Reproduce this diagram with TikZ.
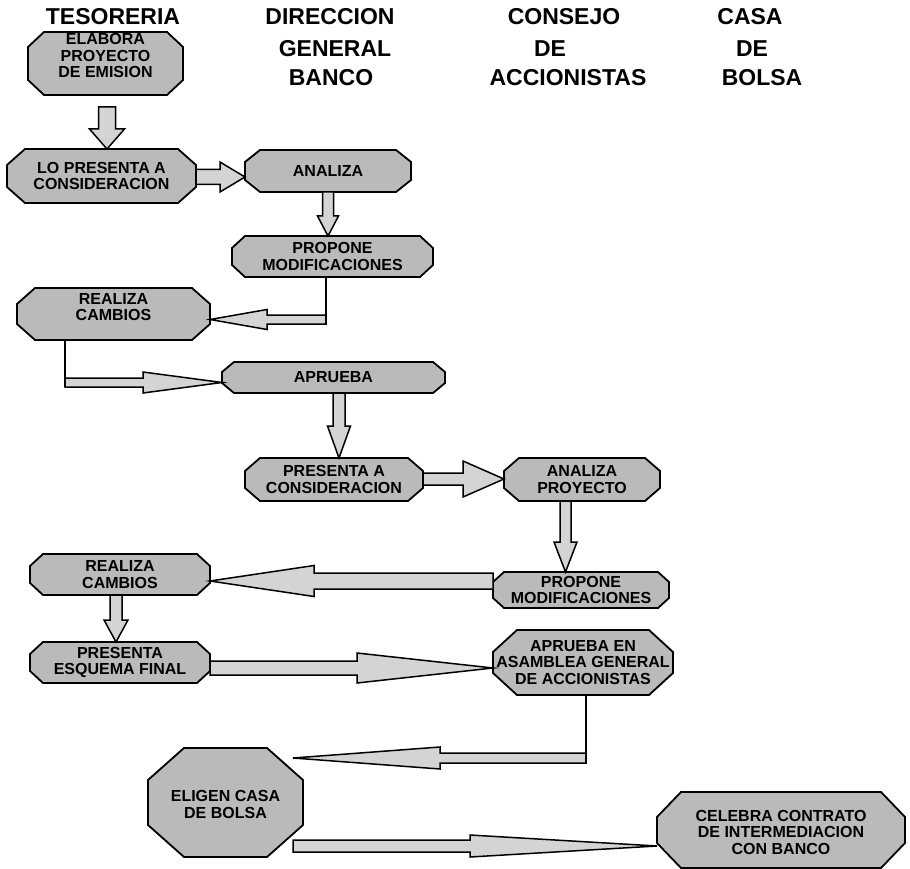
\documentclass[tikz,border=0pt]{standalone}
\usepackage{fontspec}
\setmainfont{Liberation Sans}
\usetikzlibrary{calc}

\tikzset{
  boxarea/.style={rectangle, draw=none, inner sep=0pt, outer sep=0pt},
  boxline/.style={draw=black, line width=1.8pt, fill=black!27, line join=miter},
  boxtext/.style={font=\bfseries\fontsize{16}{16.5}\selectfont, align=center, inner sep=0pt},
  header/.style={font=\bfseries\fontsize{23}{27}\selectfont, inner sep=0pt, text height=16.4pt, text depth=0pt},
  arrowbox/.style={draw=black, line width=1.5pt, fill=black!17, line join=miter},
  link/.style={draw=black, line width=1.5pt},
}

% octagonal step box: name, x, y, width, height, chamfer x, chamfer y, text shift, text
\newcommand\octnode[9]{%
  \node[boxarea, minimum width=#4pt, minimum height=#5pt] (#1) at (#2,#3) {};
  \draw[boxline] ($(#1.north west)+(#6,0)$) -- ($(#1.north east)+(-#6,0)$)
    -- ($(#1.north east)+(0,#7)$) -- ($(#1.south east)+(0,-#7)$)
    -- ($(#1.south east)+(-#6,0)$) -- ($(#1.south west)+(#6,0)$)
    -- ($(#1.south west)+(0,-#7)$) -- ($(#1.north west)+(0,#7)$) -- cycle;
  \node[boxtext] (#1-text) at ($(#1.center)+(0,#8)$) {#9};
}

% hollow block arrow: from, to, shaft half width, head half width, head length
\newcommand\blockarrow[5]{%
  \coordinate (ba-h) at ($(#2)!#5pt!(#1)$);
  \draw[arrowbox] ($(#1)!#3pt!90:(#2)$) -- ($(ba-h)!#3pt!90:(#2)$)
    -- ($(ba-h)!#4pt!90:(#2)$) -- (#2) -- ($(ba-h)!#4pt!-90:(#2)$)
    -- ($(ba-h)!#3pt!-90:(#2)$) -- ($(#1)!#3pt!-90:(#2)$) -- cycle;
}

\begin{document}
\begin{tikzpicture}[x=1pt, y=-1pt]
\useasboundingbox (0,0) rectangle (910,869);
\fill[white] (0,0) rectangle (910,869);

% column headings
\node[header] (h1)  at (113,16.5) {TESORERIA};
\node[header] (h2a) at (330,16.5) {DIRECCION};
\node[header] (h2b) at (335,48)   {GENERAL};
\node[header] (h2c) at (331,77.5) {BANCO};
\node[header] (h3a) at (564,16.5) {CONSEJO};
\node[header] (h3b) at (550,48)   {DE};
\node[header] (h3c) at (568,77.5) {ACCIONISTAS};
\node[header] (h4a) at (750,16.5) {CASA};
\node[header] (h4b) at (752,48)   {DE};
\node[header] (h4c) at (762,77.5) {BOLSA};

% steps
\octnode{n1}{105.5}{63.5}{155}{63}{16}{15}{-8}{ELABORA\\PROYECTO\\DE EMISION}
\octnode{n2}{101.5}{176}{189}{54}{18}{16}{0}{LO PRESENTA A\\CONSIDERACION}
\octnode{n3}{328}{171}{166}{42}{15}{12}{0}{ANALIZA}
\octnode{n4}{332.5}{256.5}{201}{41}{13}{12}{0}{PROPONE\\MODIFICACIONES}
\octnode{n5}{113.5}{314}{193}{52}{18}{16}{-7}{REALIZA\\CAMBIOS}
\octnode{n6}{333.5}{377.5}{223}{31}{12}{10}{0}{APRUEBA}
\octnode{n7}{334}{479.5}{178}{43}{15}{13}{0}{PRESENTA A\\CONSIDERACION}
\octnode{n8}{582}{479.5}{156}{43}{15}{13}{0}{ANALIZA\\PROYECTO}
\octnode{n9}{581}{590}{176}{36}{11}{10}{0}{PROPONE\\MODIFICACIONES}
\octnode{n10}{120}{574.5}{180}{41}{13}{12}{0}{REALIZA\\CAMBIOS}
\octnode{n11}{120}{662.5}{180}{41}{13}{12}{0}{PRESENTA\\ESQUEMA FINAL}
\octnode{n12}{583}{662.5}{180}{65}{24}{22}{0}{APRUEBA EN\\ASAMBLEA GENERAL\\DE ACCIONISTAS}
\octnode{n13}{225.5}{802.5}{155}{109}{36}{32}{2}{ELIGEN CASA\\DE BOLSA}
\octnode{n14}{781}{830}{248}{76}{24}{25}{2}{CELEBRA CONTRATO\\DE INTERMEDIACION\\CON BANCO}

% flow
\coordinate (a1s) at ($(n1.south)+(1.5,12)$);
\coordinate (a1e) at (a1s |- n2.north);
\blockarrow{a1s}{a1e}{8.5}{17.5}{20}

\coordinate (a2s) at ($(n2.east)+(0,1)$);
\coordinate (a2e) at (a2s -| n3.west);
\blockarrow{a2s}{a2e}{7.5}{15}{25}

\coordinate (a3s) at (n3.south);
\coordinate (a3e) at (a3s |- n4.north);
\blockarrow{a3s}{a3e}{5.5}{10.5}{20}

\coordinate (a4t) at ($(n4.south)+(-6.5,0)$);
\coordinate (a4s) at ($(a4t)+(0,42.5)$);
\coordinate (a4e) at (a4s -| n5.east);
\blockarrow{a4s}{a4e}{4.5}{10}{57}
\draw[link] (a4t) -- ($(a4s)+(0,4.5)$);

\coordinate (a5t) at ($(n5.south)+(-48.5,0)$);
\coordinate (a5s) at ($(a5t)+(0,42.5)$);
\coordinate (a5e) at (a5s -| n6.west);
\blockarrow{a5s}{a5e}{4.5}{10.5}{79}
\draw[link] (a5t) -- ($(a5s)+(0,4.5)$);

\coordinate (a6s) at ($(n6.south)+(5.5,0)$);
\coordinate (a6e) at (a6s |- n7.north);
\blockarrow{a6s}{a6e}{6}{11.5}{32}

\coordinate (a7s) at ($(n7.east)+(0,-0.5)$);
\coordinate (a7e) at (a7s -| n8.west);
\blockarrow{a7s}{a7e}{6}{18}{41}

\coordinate (a8s) at ($(n8.south)+(-16.5,0)$);
\coordinate (a8e) at (a8s |- n9.north);
\blockarrow{a8s}{a8e}{5.5}{11.5}{30}

\coordinate (a9s) at ($(n9.west)+(0,-9)$);
\coordinate (a9e) at (a9s -| n10.east);
\blockarrow{a9s}{a9e}{8}{15.5}{104}

\coordinate (a10s) at ($(n10.south)+(-4,0)$);
\coordinate (a10e) at (a10s |- n11.north);
\blockarrow{a10s}{a10e}{6}{12}{22}

\coordinate (a11s) at ($(n11.east)+(0,5.5)$);
\coordinate (a11e) at (a11s -| n12.west);
\blockarrow{a11s}{a11e}{7}{15}{136}

\coordinate (a12t) at ($(n12.south)+(3,0)$);
\coordinate (a12s) at ($(a12t)+(0,63)$);
\coordinate (a12e) at ($(a12s -| n13.east)+(-10,0)$);
\blockarrow{a12s}{a12e}{5}{11}{147}
\draw[link] (a12t) -- ($(a12s)+(0,5)$);

\coordinate (a13s) at ($(n13.east)+(-10,43.5)$);
\coordinate (a13e) at (a13s -| n14.west);
\blockarrow{a13s}{a13e}{6}{11}{187}
\end{tikzpicture}
\end{document}
